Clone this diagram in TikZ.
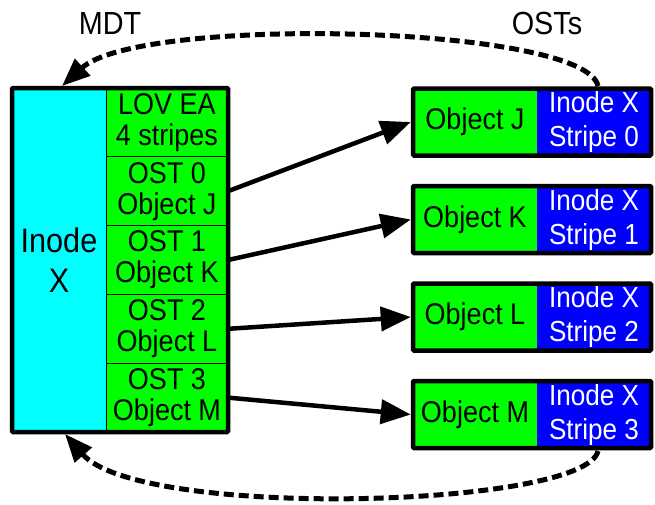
\documentclass[tikz,border=0pt]{standalone}
\usepackage{fontspec}
\setmainfont[FakeStretch=0.9]{Liberation Sans}
\usetikzlibrary{arrows.meta}
\definecolor{cy}{HTML}{00FFFF}
\definecolor{gr}{HTML}{00FF00}
\definecolor{bl}{HTML}{0000FF}
\tikzset{
  txt/.style={font=\fontsize{30}{31}\selectfont, align=center, inner sep=0pt},
  cell/.style={txt, draw=black, line width=0.8pt, fill=gr, minimum width=122pt, minimum height=68.8pt, outer sep=0pt},
  inodecell/.style={txt, font=\fontsize{34}{40}\selectfont, draw=black, line width=0.8pt, fill=cy, minimum width=94pt, minimum height=344pt, outer sep=0pt},
  objcell/.style={txt, fill=gr, minimum width=124pt, minimum height=67pt, outer sep=0pt},
  stripecell/.style={txt, font=\fontsize{29}{34}\selectfont, fill=bl, text=white, minimum width=114pt, minimum height=67pt, outer sep=0pt},
  frame/.style={draw=black, line width=4.5pt, rounded corners=1pt, inner sep=0pt},
  link/.style={line width=4.5pt, -{Triangle[length=30pt,width=24pt]}},
  back/.style={line width=5pt, dash pattern=on 10pt off 5pt, -{Triangle[length=28pt,width=22pt]}},
  lbl/.style={font=\fontsize{32}{34}\selectfont, inner sep=0pt}
}
\begin{document}
\begin{tikzpicture}[x=1pt,y=-1pt]
\useasboundingbox (0,0) rectangle (655,504);
% left MDT inode
\node[inodecell] (inode) at (59,260) {Inode\\X};
\node[cell] (lov) at (167,122.4) {LOV EA\\4 stripes};
\node[cell] (ost0) at (167,191.2) {OST 0\\Object J};
\node[cell] (ost1) at (167,260) {OST 1\\Object K};
\node[cell] (ost2) at (167,328.8) {OST 2\\Object L};
\node[cell] (ost3) at (167,397.6) {OST 3\\Object M};
\node[frame, minimum width=216pt, minimum height=344pt] (mdtbox) at (120,260) {};
% right objects
\node[objcell] (oj) at (475,122) {Object J};
\node[stripecell] (sj) at (594,122) {Inode X\\Stripe 0};
\node[frame, minimum width=238pt, minimum height=67pt] (fj) at (532,122) {};
\node[objcell] (ok) at (475,219.5) {Object K};
\node[stripecell] (sk) at (594,219.5) {Inode X\\Stripe 1};
\node[frame, minimum width=238pt, minimum height=67pt] (fk) at (532,219.5) {};
\node[objcell] (ol) at (475,317) {Object L};
\node[stripecell] (sl) at (594,317) {Inode X\\Stripe 2};
\node[frame, minimum width=238pt, minimum height=67pt] (fl) at (532,317) {};
\node[objcell] (om) at (475,414.5) {Object M};
\node[stripecell] (sm) at (594,414.5) {Inode X\\Stripe 3};
\node[frame, minimum width=238pt, minimum height=67pt] (fm) at (532,414.5) {};
% labels
\node[lbl] (mdt) at (110,23) {MDT};
\node[lbl] (osts) at (547,23) {OSTs};
% links
\draw[link] (ost0.east) -- (fj.west);
\draw[link] (ost1.east) -- (fk.west);
\draw[link] (ost2.east) -- (fl.west);
\draw[link] (ost3.east) -- (fm.west);
% dashed back references
\coordinate (ts) at (598,86);
\coordinate (te) at (62,86);
\coordinate (bs) at (598,451);
\coordinate (be) at (65,434);
\draw[back] (ts) .. controls (585,25) and (140,15) .. (te);
\draw[back] (bs) .. controls (585,508) and (140,520) .. (be);
\end{tikzpicture}
\end{document}
